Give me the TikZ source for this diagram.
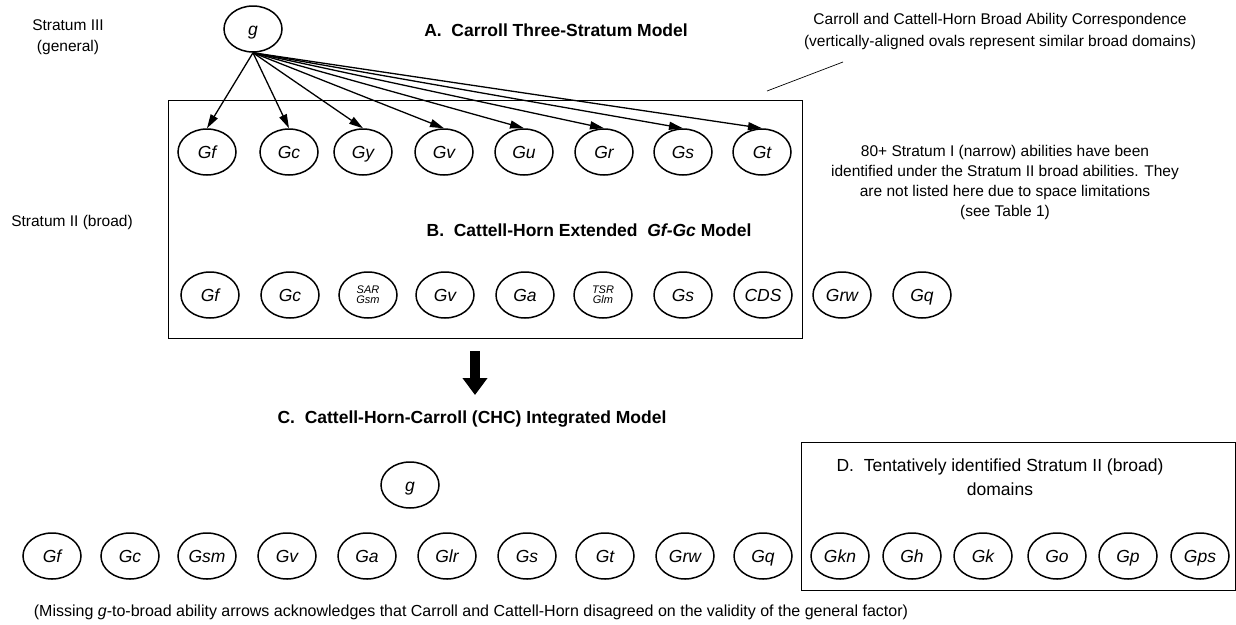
\documentclass[tikz,border=0pt]{standalone}
\usepackage{fontspec}
\setmainfont{Liberation Sans}
\usetikzlibrary{arrows.meta,shapes.geometric}

\tikzset{
  ovalbase/.style={ellipse, draw, line width=1.5pt, minimum width=58pt, minimum height=46pt,
    inner sep=0pt},
  oval/.style={ovalbase, text height=12.5pt, text depth=0pt,
    font=\fontsize{17.5}{20}\selectfont\itshape},
  tinyoval/.style={ovalbase, align=center, font=\fontsize{11}{10}\selectfont\itshape},
  plaintext/.style={align=center, font=\fontsize{15.5}{21}\selectfont},
  modeltitle/.style={font=\fontsize{17.5}{21}\selectfont\bfseries},
  garrow/.style={line width=1.3pt, -{Triangle[length=14pt,width=8pt]}},
}

\begin{document}
\begin{tikzpicture}[x=1pt,y=-1pt]
\useasboundingbox (0,0) rectangle (1236,624);

\node[plaintext] (s3) at (68,37) {Stratum III\\(general)};
\node[plaintext] (s2) at (72,222) {Stratum II (broad)};

% A. Carroll
\node[modeltitle] (titleA) at (556,30) {A.\ \ Carroll Three-Stratum Model};
\draw[line width=0.9pt] (168,100) rectangle (802,338);
\node[oval] (gA) at (253,29) {g};
\foreach \ab/\x in {Gf/207, Gc/289, Gy/363, Gv/444, Gu/524, Gr/604, Gs/683, Gt/762}
  \node[oval] (A\ab) at (\x,152) {\ab};
\foreach \ab in {Gf,Gc,Gy,Gv,Gu,Gr,Gs,Gt}
  \draw[garrow] (gA.south) -- (A\ab.north);

\node[plaintext] (corr) at (1000,31) {Carroll and Cattell-Horn Broad Ability Correspondence\\[1pt](vertically-aligned ovals represent similar broad domains)};
\coordinate (corrend) at (843,62);
\coordinate (boxend) at (767,91);
\draw[line width=0.7pt] (corrend) -- (boxend);

\node[plaintext, font=\fontsize{15.5}{20}\selectfont] (narrow) at (1005,182) {80+ Stratum I (narrow) abilities have been\\identified under the Stratum II broad abilities. They\\are not listed here due to space limitations\\(see Table 1)};

% B. Cattell-Horn
\node[modeltitle] (titleB) at (589,230) {B.\ \ Cattell-Horn Extended\ \ \textit{Gf-Gc} Model};
\foreach \ab/\x in {Gf/210, Gc/290, Gv/445, Ga/525, Gs/683, CDS/763, Grw/842, Gq/922}
  \node[oval] (B\ab) at (\x,295) {\ab};
\node[tinyoval] (BGsm) at (368,295) {SAR\\Gsm};
\node[tinyoval] (BGlm) at (603,295) {TSR\\Glm};

\coordinate (arrtop) at (475,351);
\coordinate (arrtip) at (475,395);
\draw[line width=10pt, -{Triangle[length=17pt,width=24pt]}] (arrtop) -- (arrtip);

% C. CHC
\node[modeltitle] (titleC) at (472,419) {C.\ \ Cattell-Horn-Carroll (CHC) Integrated Model};
\node[oval] (gC) at (410,485) {g};
\foreach \ab/\x in {Gf/52, Gc/130, Gsm/207, Gv/287, Ga/367, Glr/447, Gs/527, Gt/605, Grw/685, Gq/763}
  \node[oval] (C\ab) at (\x,556) {\ab};

% D. tentative
\draw[line width=0.9pt] (801,442) rectangle (1235,590);
\node[plaintext, font=\fontsize{17.5}{24}\selectfont] (titleD) at (1000,477) {D.\ \ Tentatively identified Stratum II (broad)\\domains};
\foreach \ab/\x in {Gkn/840, Gh/912, Gk/983, Go/1057, Gp/1128, Gps/1200}
  \node[oval] (D\ab) at (\x,556) {\ab};

\node[plaintext, font=\fontsize{16}{21}\selectfont] (note) at (471,612) {(Missing \textit{g}-to-broad ability arrows acknowledges that Carroll and Cattell-Horn disagreed on the validity of the general factor)};

\end{tikzpicture}
\end{document}
